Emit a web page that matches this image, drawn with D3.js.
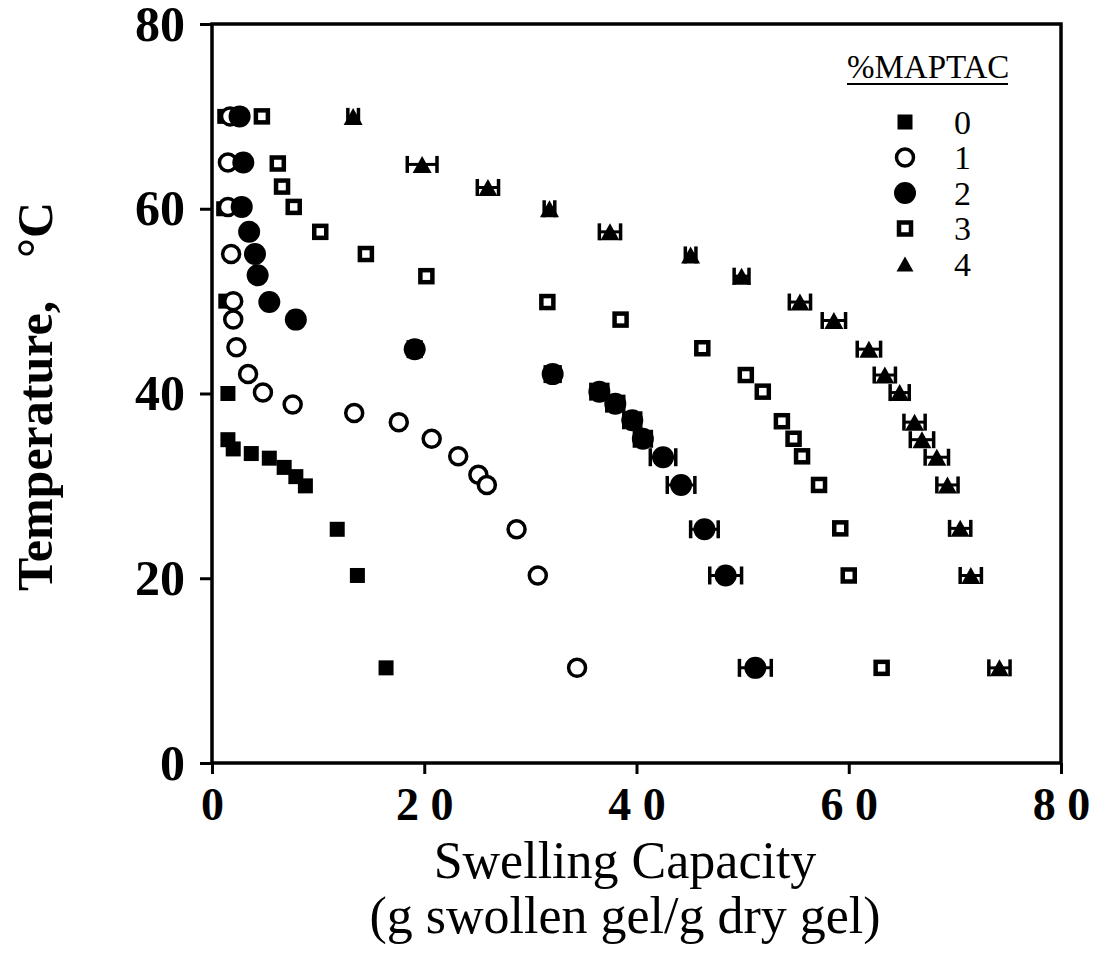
<!DOCTYPE html>
<html>
<head>
<meta charset="utf-8">
<script src="https://cdn.jsdelivr.net/npm/d3@7"></script>
<style>
  html, body { margin: 0; padding: 0; background: #fff; }
  svg { display: block; }
  text { font-family: "Liberation Serif", "Times New Roman", serif; fill: #000; }
</style>
</head>
<body>
<svg id="chart" width="1098" height="959"></svg>
<script>
// values (x = swelling capacity, y = temperature in C)
const seriesNames = ["0", "1", "2", "3", "4"];

const s0x = [1.2, 1.1, 1.3, 1.5, 1.5, 2.0, 3.7, 5.4, 6.8, 7.9, 8.8, 11.8, 13.7, 16.4];
const s0y = [70, 60, 50, 40, 35, 34, 33.5, 33, 32, 31, 30, 25.3, 20.3, 10.3];

const s1x = [1.7, 1.5, 1.5, 1.8, 2.0, 2.0, 2.3, 3.4, 4.8, 7.6, 13.4, 17.6, 20.7, 23.2, 25.1, 25.9, 28.7, 30.7, 34.4];
const s1y = [70, 65, 60.2, 55.1, 50, 48, 45, 42.1, 40.1, 38.8, 37.9, 36.9, 35.1, 33.2, 31.2, 30.1, 25.3, 20.3, 10.3];

const s2x = [2.6, 2.95, 2.8, 3.5, 4.05, 4.3, 5.4, 7.9, 19.1, 32.1, 36.5, 38.0, 39.6, 40.6, 42.5, 44.2, 46.4, 48.4, 51.2];
const s2y = [70, 65, 60.2, 57.5, 55.1, 52.8, 49.9, 48.0, 44.8, 42.1, 40.2, 38.9, 37.1, 35.1, 33.1, 30.1, 25.3, 20.3, 10.3];
const s2err = [0, 0, 0, 0, 0, 0, 0, 0, 0.6, 0.7, 0.8, 0.8, 0.8, 0.8, 1.2, 1.3, 1.3, 1.5, 1.5];

const s3x = [4.7, 6.2, 6.6, 7.7, 10.2, 14.5, 20.2, 31.6, 38.5, 46.2, 50.3, 51.9, 53.7, 54.8, 55.6, 57.2, 59.2, 60.0, 63.1];
const s3y = [70, 64.9, 62.4, 60.2, 57.5, 55.1, 52.7, 49.9, 48, 44.9, 42, 40.2, 37, 35.1, 33.2, 30.1, 25.4, 20.3, 10.3];

const s4x = [13.3, 19.8, 26.0, 31.8, 37.5, 45.1, 49.9, 55.4, 58.6, 61.9, 63.4, 64.8, 66.2, 66.9, 68.3, 69.3, 70.5, 71.5, 74.2];
const s4y = [70, 64.8, 62.3, 60, 57.5, 55, 52.7, 49.9, 47.9, 44.8, 42, 40.1, 36.9, 35, 33.1, 30.1, 25.4, 20.3, 10.3];
const s4err = [0.5, 1.4, 1.0, 0.5, 1.0, 0.5, 0.7, 1.0, 1.1, 1.1, 1.0, 0.9, 1.0, 1.1, 1.1, 1.0, 1.0, 1.0, 1.0];

const xTicks = [0, 20, 40, 60, 80];
const yTicks = [0, 20, 40, 60, 80];

const svg = d3.select("#chart");

const x = d3.scaleLinear().domain([0, 80]).range([212, 1061]);
const y = d3.scaleLinear().domain([0, 80]).range([763, 24]);

// axes, ticks pointing outward
const xAxis = svg.append("g")
  .attr("transform", `translate(0,${y(0)})`)
  .call(d3.axisBottom(x).tickValues(xTicks).tickSize(11).tickSizeOuter(0).tickPadding(13)
    .tickFormat(d => String(d).split("").join(" ")));
xAxis.select(".domain").remove();
xAxis.selectAll(".tick line").attr("stroke", "#000").attr("stroke-width", 3);
xAxis.selectAll(".tick text")
  .attr("font-size", 46).attr("font-weight", "bold")
  .attr("font-family", "Liberation Serif, serif");

const yAxis = svg.append("g")
  .attr("transform", `translate(${x(0)},0)`)
  .call(d3.axisLeft(y).tickValues(yTicks).tickSize(12).tickSizeOuter(0).tickPadding(15));
yAxis.select(".domain").remove();
yAxis.selectAll(".tick line").attr("stroke", "#000").attr("stroke-width", 3);
yAxis.selectAll(".tick text")
  .attr("font-size", 50).attr("font-weight", "bold")
  .attr("font-family", "Liberation Serif, serif");

// frame
svg.append("rect")
  .attr("x", x(0)).attr("y", y(80))
  .attr("width", x(80) - x(0)).attr("height", y(0) - y(80))
  .attr("fill", "none").attr("stroke", "#000").attr("stroke-width", 3.5);

// marker drawers
function tri(g, w, h) {
  g.append("path")
    .attr("d", `M0,${-h / 2}L${w / 2},${h / 2}L${-w / 2},${h / 2}Z`)
    .attr("fill", "#000");
}
const markers = [
  g => g.append("rect").attr("x", -7.5).attr("y", -7.5).attr("width", 15).attr("height", 15).attr("fill", "#000"),
  g => g.append("circle").attr("r", 8.5).attr("fill", "#fff").attr("stroke", "#000").attr("stroke-width", 3.5),
  g => g.append("circle").attr("r", 11).attr("fill", "#000"),
  g => g.append("rect").attr("x", -6).attr("y", -6).attr("width", 12).attr("height", 12)
        .attr("fill", "#fff").attr("stroke", "#000").attr("stroke-width", 4.5),
  g => tri(g, 19, 17)
];

function errBars(g, px0, px1, h) {
  g.append("line").attr("x1", px0).attr("x2", px1).attr("y1", 0).attr("y2", 0)
    .attr("stroke", "#000").attr("stroke-width", 3);
  [px0, px1].forEach(px => g.append("line")
    .attr("x1", px).attr("x2", px).attr("y1", -h / 2).attr("y2", h / 2)
    .attr("stroke", "#000").attr("stroke-width", 3.5));
}

const allSeries = [
  { xs: s0x, ys: s0y },
  { xs: s1x, ys: s1y },
  { xs: s2x, ys: s2y, err: s2err, capH: 18 },
  { xs: s3x, ys: s3y },
  { xs: s4x, ys: s4y, err: s4err, capH: 17 }
];

allSeries.forEach((s, si) => {
  const data = s.xs.map((v, i) => ({ x: v, y: s.ys[i], e: s.err ? s.err[i] : 0 }));
  const pts = svg.append("g").selectAll("g")
    .data(data)
    .join("g")
    .attr("transform", d => `translate(${x(d.x)},${y(d.y)})`);
  pts.each(function (d) {
    const g = d3.select(this);
    if (d.e > 0) errBars(g, x(d.x - d.e) - x(d.x), x(d.x + d.e) - x(d.x), s.capH);
    markers[si](g);
  });
});

// legend
const leg = svg.append("g");
leg.append("text").attr("x", 847).attr("y", 78)
  .attr("font-size", 33).text("%MAPTAC");
leg.append("line").attr("x1", 847).attr("x2", 1008).attr("y1", 84).attr("y2", 84)
  .attr("stroke", "#000").attr("stroke-width", 2);
seriesNames.forEach((name, i) => {
  const cy = 122 + i * 35.5;
  const g = leg.append("g").attr("transform", `translate(905,${cy})`);
  if (i === 4) tri(g, 17, 15); else markers[i](g);
  leg.append("text").attr("x", 954).attr("y", cy).attr("dy", "0.35em")
    .attr("font-size", 34).text(name);
});

// axis titles
svg.append("text")
  .attr("transform", "translate(52,591) rotate(-90)")
  .attr("font-size", 50).attr("font-weight", "bold")
  .text("Temperature,");
svg.append("text")
  .attr("transform", "translate(52,258) rotate(-90)")
  .attr("font-size", 50).attr("font-weight", "bold")
  .text("°C");

svg.append("text").attr("x", 625).attr("y", 878).attr("text-anchor", "middle")
  .attr("font-size", 52).text("Swelling Capacity");
svg.append("text").attr("x", 625).attr("y", 933).attr("text-anchor", "middle")
  .attr("font-size", 52).text("(g swollen gel/g dry gel)");
</script>
</body>
</html>
